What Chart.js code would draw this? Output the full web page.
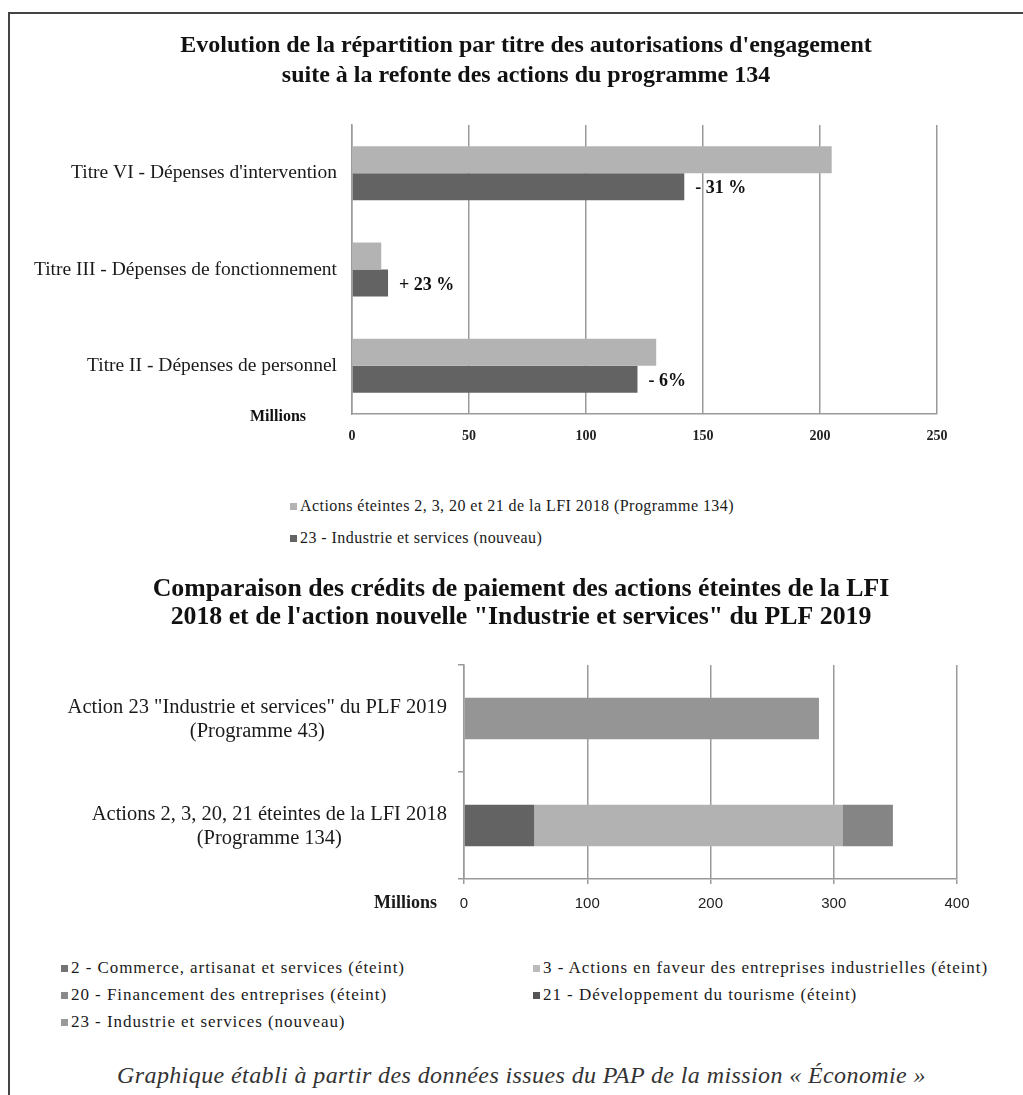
<!DOCTYPE html>
<html lang="fr">
<head>
<meta charset="utf-8">
<script src="https://cdn.jsdelivr.net/npm/chart.js@4.4.1/dist/chart.umd.min.js"></script>
<style>
  body { margin: 0; background: #fff; width: 1023px; height: 1095px; overflow: hidden; position: relative; font-family: "Liberation Serif", serif; color: #1a1a1a; }
  #frame { position: absolute; left: 8px; top: 12px; width: 1100px; height: 1100px; border: 2px solid #444; }
  .box { position: absolute; left: 0; width: 1023px; }
  #c1box { top: 0; height: 470px; }
  #c2box { top: 555px; height: 380px; }
  .item { position: absolute; white-space: nowrap; line-height: 20px; }
  .item i { display: inline-block; width: 7px; height: 7px; margin-right: 3px; vertical-align: 1px; }
  #legend1 .item { font-size: 16px; letter-spacing: 0.45px; }
  #legend2 .item { font-size: 17px; letter-spacing: 0.95px; }
  #note { position: absolute; top: 1062px; left: 0; width: 1043px; text-align: center; font-style: italic; font-size: 24px; letter-spacing: 0.4px; color: #333; }
</style>
</head>
<body>
<div id="frame"></div>
<div class="box" id="c1box"><canvas id="c1"></canvas></div>
<div id="legend1"></div>
<div class="box" id="c2box"><canvas id="c2"></canvas></div>
<div id="legend2"></div>
<div id="note">Graphique établi à partir des données issues du PAP de la mission « Économie »</div>
<script>
const FONT = '"Liberation Serif", serif';

// Chart 1 - autorisations d'engagement (millions)
const titre1 = ["Evolution de la répartition par titre des autorisations d'engagement", 'suite à la refonte des actions du programme 134'];
const titres = ["Titre VI - Dépenses d'intervention", 'Titre III - Dépenses de fonctionnement', 'Titre II - Dépenses de personnel'];
const aeEteintes = [205, 12.5, 130];
const aeIndustrie = [142, 15.4, 122];
const evolution = ['- 31 %', '+ 23 %', '- 6%'];
const series1Names = ['Actions éteintes 2, 3, 20 et 21 de la LFI 2018 (Programme 134)', '23 - Industrie et services (nouveau)'];
const series1Colors = ['#b3b3b3', '#636363'];

// Chart 2 - crédits de paiement (millions)
const titre2 = ['Comparaison des crédits de paiement des actions éteintes de la LFI', '2018 et de l\'action nouvelle "Industrie et services" du PLF 2019'];
const actions = [
  ['Action 23 "Industrie et services" du PLF 2019', '(Programme 43)'],
  ['Actions 2, 3, 20, 21 éteintes de la LFI 2018', '(Programme 134)']
];
const cpCommerce = [0, 57];
const cpEntreprisesInd = [0, 250];
const cpFinancement = [0, 41];
const cpTourisme = [0, 0];
const cpIndustrie = [288, 0];
const series2Names = [
  '2 - Commerce, artisanat et services (éteint)',
  '3 - Actions en faveur des entreprises industrielles (éteint)',
  '20 - Financement des entreprises (éteint)',
  '21 - Développement du tourisme (éteint)',
  '23 - Industrie et services (nouveau)'
];
const series2Values = [cpCommerce, cpEntreprisesInd, cpFinancement, cpTourisme, cpIndustrie];
const series2Colors = ['#636363', '#b2b2b2', '#858585', '#505050', '#959595'];
const legend2Colors = ['#747474', '#bbbbbb', '#8a8a8a', '#555555', '#9a9a9a'];

// title drawn centred on the page rather than on the chart box
const pageTitle = {
  id: 'pageTitle',
  afterDraw(chart, args, opts) {
    const ctx = chart.ctx;
    ctx.save();
    ctx.fillStyle = '#111';
    ctx.textAlign = 'center';
    ctx.textBaseline = 'middle';
    ctx.font = 'bold ' + opts.size + 'px ' + FONT;
    opts.lines.forEach((l, i) => ctx.fillText(l, opts.x, opts.y + i * opts.gap));
    ctx.restore();
  }
};

const extras1 = {
  id: 'extras1',
  afterDatasetsDraw(chart) {
    const ctx = chart.ctx;
    const meta = chart.getDatasetMeta(1);
    ctx.save();
    ctx.fillStyle = '#111';
    ctx.textBaseline = 'middle';
    ctx.font = 'bold 18px ' + FONT;
    meta.data.forEach((bar, i) => ctx.fillText(evolution[i], bar.x + 11, bar.y + 2));
    ctx.font = 'bold 16px ' + FONT;
    ctx.textAlign = 'right';
    ctx.fillText('Millions', chart.chartArea.left - 46, chart.chartArea.bottom + 3);
    ctx.restore();
  }
};

new Chart(document.getElementById('c1'), {
  type: 'bar',
  data: {
    labels: titres,
    datasets: [
      { label: series1Names[0], data: aeEteintes, backgroundColor: series1Colors[0] },
      { label: series1Names[1], data: aeIndustrie, backgroundColor: series1Colors[1] }
    ]
  },
  options: {
    indexAxis: 'y',
    responsive: true,
    maintainAspectRatio: false,
    animation: false,
    layout: { padding: { left: 0, right: 86, top: 125, bottom: 0 } },
    datasets: { bar: { categoryPercentage: 0.56, barPercentage: 1 } },
    plugins: {
      legend: { display: false },
      tooltip: { enabled: false },
      pageTitle: { lines: titre1, x: 526, y: 46, gap: 30, size: 24 }
    },
    scales: {
      x: {
        min: 0, max: 250,
        ticks: { stepSize: 50, font: { family: FONT, size: 14, weight: 'bold' }, color: '#222', padding: 14 },
        grid: { color: '#9a9a9a', lineWidth: 1.5, drawTicks: false },
        border: { color: '#9a9a9a', width: 1.5 },
        afterFit: s => { s.height = 56; }
      },
      y: {
        ticks: { font: { family: FONT, size: 19.5 }, color: '#1a1a1a', padding: 15 },
        grid: { drawOnChartArea: false, drawTicks: false, color: '#9a9a9a' },
        border: { color: '#9a9a9a', width: 1.5 },
        afterFit: s => { s.width = 352; }
      }
    }
  },
  plugins: [pageTitle, extras1]
});

const extras2 = {
  id: 'extras2',
  afterDraw(chart) {
    const ctx = chart.ctx;
    const ys = chart.scales.y;
    ctx.save();
    ctx.fillStyle = '#1a1a1a';
    ctx.textBaseline = 'middle';
    ctx.textAlign = 'center';
    ctx.font = '20.5px ' + FONT;
    actions.forEach((lines, i) => {
      const widest = Math.max(...lines.map(l => ctx.measureText(l).width));
      const cx = ys.right - 17 - widest / 2;
      const cy = ys.getPixelForTick(i) + 1;
      lines.forEach((l, j) => ctx.fillText(l, cx, cy + (j - (lines.length - 1) / 2) * 24));
    });
    ctx.font = 'bold 18px ' + FONT;
    ctx.textAlign = 'right';
    ctx.fillText('Millions', chart.chartArea.left - 27, chart.chartArea.bottom + 24);
    ctx.restore();
  }
};

new Chart(document.getElementById('c2'), {
  type: 'bar',
  data: {
    labels: actions,
    datasets: series2Names.map((name, i) => ({
      label: name, data: series2Values[i], backgroundColor: series2Colors[i],
      barPercentage: 0.39, categoryPercentage: 1
    }))
  },
  options: {
    indexAxis: 'y',
    responsive: true,
    maintainAspectRatio: false,
    animation: false,
    layout: { padding: { left: 0, right: 66, top: 110, bottom: 0 } },
    plugins: {
      legend: { display: false },
      tooltip: { enabled: false },
      pageTitle: { lines: titre2, x: 521, y: 34, gap: 28, size: 25.8 }
    },
    scales: {
      x: {
        stacked: true,
        min: 0, max: 400,
        ticks: { stepSize: 100, font: { family: '"Liberation Sans", sans-serif', size: 15 }, color: '#222', padding: 11 },
        grid: { color: '#9a9a9a', lineWidth: 1.5, tickLength: 5 },
        border: { color: '#9a9a9a', width: 1.5 },
        afterFit: s => { s.height = 56; }
      },
      y: {
        stacked: true,
        ticks: { display: false },
        grid: { drawOnChartArea: false, tickLength: 6, color: '#9a9a9a', lineWidth: 1.5 },
        border: { color: '#9a9a9a', width: 1.5 },
        afterFit: s => { s.width = 464; }
      }
    }
  },
  plugins: [pageTitle, extras2]
});

// legends in HTML, built from the series arrays
function addItem(parent, name, color, left, top) {
  const d = document.createElement('div');
  d.className = 'item';
  d.style.left = left + 'px';
  d.style.top = (top - 10) + 'px';
  const sq = document.createElement('i');
  sq.style.background = color;
  d.appendChild(sq);
  d.appendChild(document.createTextNode(name));
  parent.appendChild(d);
}
const l1 = document.getElementById('legend1');
series1Names.forEach((n, i) => addItem(l1, n, series1Colors[i], 290, 506 + i * 32));
const l2 = document.getElementById('legend2');
const slots2 = [[61, 968], [533, 968], [61, 995], [533, 995], [61, 1022]];
series2Names.forEach((n, i) => addItem(l2, n, legend2Colors[i], slots2[i][0], slots2[i][1]));
</script>
</body>
</html>
